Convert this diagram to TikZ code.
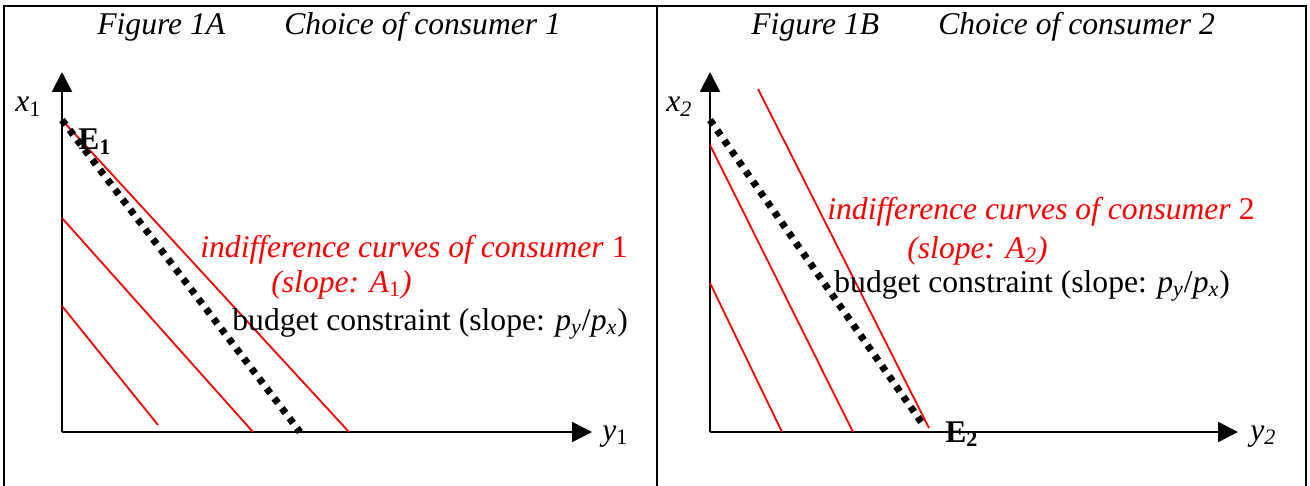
\documentclass[tikz,border=0pt]{standalone}
\usepackage{fontspec}
\setmainfont{Liberation Serif}
\usetikzlibrary{arrows.meta}
\begin{document}
\begin{tikzpicture}[x=0.5pt,y=-0.5pt,
  txt/.style={inner sep=0pt, anchor=base west, font=\fontsize{15.8}{19}\selectfont},
  redtxt/.style={txt, text=red},
  frameline/.style={line width=1pt, black},
  axis/.style={line width=1pt, -{Triangle[length=10pt,width=10pt]}},
  icurve/.style={red, line width=0.9pt},
  budget/.style={black, line width=3.5pt, dash pattern=on 3pt off 3.25pt}]
\useasboundingbox (0,0) rectangle (1310,486);
% frame
\coordinate (TL) at (4,6);
\coordinate (TR) at (1306,6);
\coordinate (TM) at (657,6);
\coordinate (BL) at (4,486);
\coordinate (BR) at (1306,486);
\coordinate (BM) at (657,486);
\draw[frameline] (BL) -- (TL) -- (TR) -- (BR);
\draw[frameline] (TM) -- (BM);
% titles
\node[txt] (tA1) at (97,35) {\itshape Figure 1A};
\node[txt] (tA2) at (284,35) {\itshape Choice of consumer 1};
\node[txt] (tB1) at (751,35) {\itshape Figure 1B};
\node[txt] (tB2) at (938,35) {\itshape Choice of consumer 2};
% ---------- Panel A ----------
\coordinate (OA) at (62,432);
\coordinate (XA) at (62,72);
\coordinate (YA) at (592,432);
\draw[axis] (OA) -- (XA);
\draw[axis] (OA) -- (YA);
\coordinate (a1s) at (62,306);
\coordinate (a1e) at (158,425);
\coordinate (a2s) at (62,218);
\coordinate (a2e) at (253,432);
\coordinate (a3s) at (62,120);
\coordinate (a3e) at (349,432);
\coordinate (abs) at (62,120);
\coordinate (abe) at (300,432);
\draw[icurve] (a1s) -- (a1e);
\draw[icurve] (a2s) -- (a2e);
\draw[icurve] (a3s) -- (a3e);
\draw[budget] (abs) -- (abe);
\node[txt] (xA) at (15,112) {\textit{x}\textsubscript{1}};
\node[txt] (yA) at (602,440) {\textit{y}\textsubscript{1}};
\node[txt] (EA) at (78,150) {\bfseries E\textsubscript{1}};
\node[redtxt] (icA) at (200,257) {\textit{indifference curves of consumer} 1};
\node[redtxt] (slA) at (271,292) {\textit{(slope: A}\textsubscript{1}\textit{)}};
\node[txt] (bcA) at (232,330) {budget constraint (slope: \textit{p}\textsubscript{\textit{y}}/\textit{p}\textsubscript{\textit{x}})};
% ---------- Panel B ----------
\coordinate (OB) at (710,432);
\coordinate (XB) at (710,72);
\coordinate (YB) at (1238,432);
\draw[axis] (OB) -- (XB);
\draw[axis] (OB) -- (YB);
\coordinate (b1s) at (710,283);
\coordinate (b1e) at (782,432);
\coordinate (b2s) at (710,145);
\coordinate (b2e) at (853,432);
\coordinate (b3s) at (758,89);
\coordinate (b3e) at (929,428);
\coordinate (bbs) at (710,120);
\coordinate (bbe) at (924,426);
\draw[icurve] (b1s) -- (b1e);
\draw[icurve] (b2s) -- (b2e);
\draw[icurve] (b3s) -- (b3e);
\draw[budget] (bbs) -- (bbe);
\node[txt] (xB) at (666,112) {\textit{x\textsubscript{2}}};
\node[txt] (yB) at (1250,440) {\textit{y\textsubscript{2}}};
\node[txt] (EB) at (945,442) {\bfseries E\textsubscript{2}};
\node[redtxt] (icB) at (827,220) {\textit{indifference curves of consumer} 2};
\node[redtxt] (slB) at (907,258) {\textit{(slope: A\textsubscript{2})}};
\node[txt] (bcB) at (834,292) {budget constraint (slope: \textit{p}\textsubscript{\textit{y}}/\textit{p}\textsubscript{\textit{x}})};
\end{tikzpicture}
\end{document}
